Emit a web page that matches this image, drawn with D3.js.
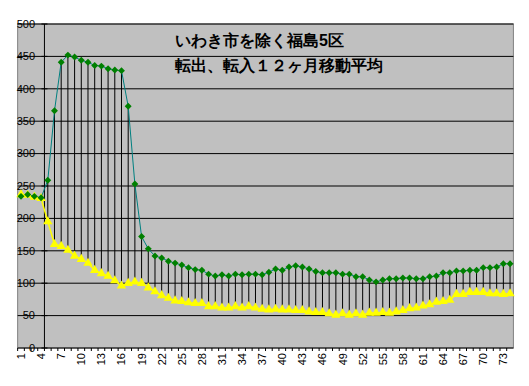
<!DOCTYPE html>
<html>
<head>
<meta charset="utf-8">
<script src="https://cdn.jsdelivr.net/npm/d3@7"></script>
<style>
  body { margin: 0; background: #fff; }
  svg text { font-family: "Liberation Sans", Arial, sans-serif; }
</style>
</head>
<body>
<div id="container"></div>
<script>
// categories (months 1..74)
const categories = d3.range(1, 75);
const xTickLabels = [1, 4, 7, 10, 13, 16, 19, 22, 25, 28, 31, 34, 37, 40, 43, 46, 49, 52, 55, 58, 61, 64, 67, 70, 73];
const yTicks = [0, 50, 100, 150, 200, 250, 300, 350, 400, 450, 500];

// 転出 (green)
const outValues = [
  234, 237, 234, 232, 259, 366, 441, 452, 449, 444,
  441, 436, 435, 431, 429, 428, 373, 253, 172, 153,
  142, 139, 134, 131, 128, 124, 121, 120, 114, 111,
  113, 111, 114, 113, 114, 114, 113, 117, 122, 120,
  125, 127, 125, 122, 118, 116, 116, 116, 114, 114,
  110, 110, 105, 102, 105, 107, 107, 108, 108, 107,
  107, 110, 111, 116, 116, 119, 119, 120, 120, 124,
  124, 125, 130, 130
];

// 転入 (yellow)
const inValues = [
  237, 236, 233, 231, 195, 160, 157, 151, 142, 137,
  131, 120, 115, 111, 104, 96, 100, 102, 100, 93,
  87, 81, 77, 73, 72, 70, 69, 69, 64, 64,
  62, 62, 64, 62, 64, 62, 60, 59, 60, 59,
  59, 58, 58, 56, 55, 55, 53, 51, 53, 51,
  53, 51, 54, 54, 55, 54, 56, 58, 61, 62,
  65, 67, 71, 72, 74, 83, 83, 86, 86, 86,
  84, 84, 83, 84
];

const titleLines = ['いわき市を除く福島5区', '転出、転入１２ヶ月移動平均'];

const width = 529, height = 386;
const plot = {left: 17.65, right: 513.4, top: 24, bottom: 348};

const svg = d3.select('#container')
  .append('svg')
  .attr('width', width)
  .attr('height', height);

const x = d3.scaleBand().domain(categories).range([plot.left, plot.right]).padding(0);
const y = d3.scaleLinear().domain([0, 500]).range([plot.bottom, plot.top]);
const cx = d => x(d) + x.bandwidth() / 2;

// plot area
svg.append('rect')
  .attr('x', plot.left)
  .attr('y', plot.top)
  .attr('width', plot.right - plot.left)
  .attr('height', plot.bottom - plot.top)
  .attr('fill', '#c0c0c0')
  .attr('stroke', '#808080')
  .attr('stroke-width', 1);

// gridlines
svg.selectAll('.grid')
  .data(yTicks.filter(d => d > 0))
  .enter()
  .append('line')
  .attr('x1', plot.left)
  .attr('x2', plot.right)
  .attr('y1', d => y(d))
  .attr('y2', d => y(d))
  .attr('stroke', '#000')
  .attr('stroke-width', 1);

// value axis (crosses between 4 and 5)
const axisX = x(5);
svg.append('line')
  .attr('x1', axisX).attr('x2', axisX)
  .attr('y1', plot.top).attr('y2', plot.bottom)
  .attr('stroke', '#000');
svg.selectAll('.ytick')
  .data(yTicks)
  .enter()
  .append('line')
  .attr('x1', axisX - 3).attr('x2', axisX + 3)
  .attr('y1', d => y(d)).attr('y2', d => y(d))
  .attr('stroke', '#000');

// y labels
svg.selectAll('.ylabel')
  .data(yTicks)
  .enter()
  .append('text')
  .attr('x', 35)
  .attr('y', d => y(d))
  .attr('dy', '0.35em')
  .attr('text-anchor', 'end')
  .attr('font-size', 11)
  .attr('fill', '#000')
  .text(d => d);

// category axis
svg.append('line')
  .attr('x1', plot.left).attr('x2', plot.right)
  .attr('y1', plot.bottom).attr('y2', plot.bottom)
  .attr('stroke', '#000');
svg.selectAll('.xtick')
  .data(categories)
  .enter()
  .append('line')
  .attr('x1', d => x(d)).attr('x2', d => x(d))
  .attr('y1', plot.bottom).attr('y2', plot.bottom + 3)
  .attr('stroke', '#000');

svg.selectAll('.xlabel')
  .data(xTickLabels)
  .enter()
  .append('text')
  .attr('transform', d => `translate(${cx(d) + 4},${plot.bottom + 5}) rotate(-90)`)
  .attr('text-anchor', 'end')
  .attr('font-size', 11)
  .attr('fill', '#000')
  .text(d => d);

// high-low lines
svg.selectAll('.hilo')
  .data(categories)
  .enter()
  .append('line')
  .attr('x1', d => cx(d)).attr('x2', d => cx(d))
  .attr('y1', (d, i) => y(outValues[i]))
  .attr('y2', (d, i) => y(inValues[i]))
  .attr('stroke', '#000')
  .attr('stroke-width', 1);

// series lines
const line = d3.line()
  .x((d, i) => cx(categories[i]))
  .y(d => y(d));

svg.append('path')
  .attr('d', line(inValues))
  .attr('fill', 'none')
  .attr('stroke', '#ffff00')
  .attr('stroke-width', 1.5);

svg.append('path')
  .attr('d', line(outValues))
  .attr('fill', 'none')
  .attr('stroke', '#008080')
  .attr('stroke-width', 1);

// markers
svg.selectAll('.tri')
  .data(inValues)
  .enter()
  .append('path')
  .attr('d', d3.symbol().type(d3.symbolTriangle).size(38))
  .attr('transform', (d, i) => `translate(${cx(categories[i])},${y(d)})`)
  .attr('fill', '#ffff00');

svg.selectAll('.dia')
  .data(outValues)
  .enter()
  .append('path')
  .attr('d', d3.symbol().type(d3.symbolSquare).size(24))
  .attr('transform', (d, i) => `translate(${cx(categories[i])},${y(d)}) rotate(45)`)
  .attr('fill', '#008000');

// title
svg.selectAll('.title')
  .data(titleLines)
  .enter()
  .append('text')
  .attr('x', 175)
  .attr('y', (d, i) => 46 + i * 25)
  .attr('font-family', '"Noto Sans CJK JP", sans-serif')
  .attr('font-weight', 'bold')
  .attr('font-size', 16)
  .attr('fill', '#000')
  .text(d => d);
</script>
</body>
</html>
